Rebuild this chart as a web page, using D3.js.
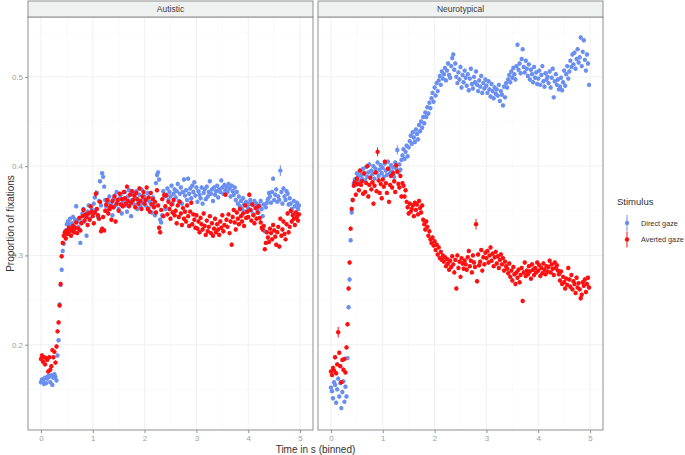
<!DOCTYPE html>
<html lang="en">
<head>
<meta charset="UTF-8">
<script src="https://d3js.org/d3.v7.min.js"></script>
<title>Fixations</title>
<style>
  body { margin: 0; background: #fff; }
  svg { font-family: "Liberation Sans", Arial, sans-serif; }
</style>
</head>
<body>
<script>
const panels = ["Autistic", "Neurotypical"];
const stimuli = ["Direct gaze", "Averted gaze"];
const binWidth = 0.02; // time bins, seconds
const xTicks = [0, 1, 2, 3, 4, 5];
const yTicks = [0.2, 0.3, 0.4, 0.5];

// proportion of fixations per 20 ms bin, starting at t = 0
const autisticDirect = [
  0.158, 0.161, 0.160, 0.156, 0.163, 0.157, 0.162, 0.165, 0.164, 0.158,
  0.166, 0.155, 0.163, 0.167, 0.164, 0.160, 0.188, 0.205, 0.245, 0.267,
  0.284, 0.305, 0.313, 0.322, 0.328, 0.335, 0.338, 0.334, 0.341, 0.330,
  0.336, 0.343, 0.327, 0.340, 0.355, 0.338, 0.332, 0.341, 0.314, 0.337,
  0.347, 0.352, 0.338, 0.344, 0.322, 0.349, 0.356, 0.341, 0.348, 0.352,
  0.346, 0.358, 0.365, 0.351, 0.370, 0.343, 0.361, 0.383, 0.356, 0.392,
  0.388, 0.377, 0.362, 0.355, 0.349, 0.360, 0.366, 0.352, 0.358, 0.345,
  0.363, 0.367, 0.356, 0.371, 0.360, 0.352, 0.364, 0.368, 0.347, 0.359,
  0.362, 0.371, 0.356, 0.349, 0.366, 0.373, 0.358, 0.344, 0.362, 0.369,
  0.357, 0.365, 0.372, 0.352, 0.361, 0.368, 0.355, 0.374, 0.359, 0.364,
  0.366, 0.356, 0.362, 0.370, 0.353, 0.360, 0.358, 0.348, 0.365, 0.356,
  0.345, 0.381, 0.390, 0.393, 0.385, 0.340, 0.337, 0.345, 0.372, 0.366,
  0.352, 0.368, 0.375, 0.362, 0.371, 0.366, 0.378, 0.358, 0.369, 0.374,
  0.365, 0.372, 0.380, 0.361, 0.369, 0.376, 0.358, 0.371, 0.385, 0.367,
  0.373, 0.362, 0.386, 0.369, 0.375, 0.364, 0.378, 0.371, 0.382, 0.367,
  0.376, 0.360, 0.372, 0.368, 0.364, 0.376, 0.358, 0.370, 0.374, 0.363,
  0.377, 0.366, 0.371, 0.383, 0.369, 0.374, 0.361, 0.376, 0.368, 0.372,
  0.378, 0.365, 0.374, 0.371, 0.384, 0.376, 0.369, 0.379, 0.373, 0.377,
  0.371, 0.380, 0.375, 0.366, 0.378, 0.372, 0.368, 0.376, 0.362, 0.371,
  0.358, 0.366, 0.355, 0.361, 0.352, 0.364, 0.357, 0.349, 0.360, 0.356,
  0.353, 0.358, 0.362, 0.350, 0.357, 0.346, 0.361, 0.355, 0.358, 0.352,
  0.348, 0.356, 0.361, 0.352, 0.344, 0.357, 0.327, 0.354, 0.359, 0.363,
  0.370, 0.366, 0.359, 0.371, 0.386, 0.362, 0.368, 0.374, 0.360, 0.366,
  0.362, 0.395, 0.371, 0.358, 0.375, 0.366, 0.362, 0.372, 0.369, 0.357,
  0.364, 0.358, 0.352, 0.348, 0.361, 0.355, 0.347, 0.359, 0.352, 0.356
];
const autisticAverted = [
  0.184, 0.188, 0.181, 0.186, 0.178, 0.185, 0.183, 0.170, 0.186, 0.172,
  0.176, 0.194, 0.186, 0.192, 0.180, 0.198, 0.215, 0.225, 0.244, 0.268,
  0.299, 0.314, 0.322, 0.326, 0.319, 0.328, 0.324, 0.331, 0.327, 0.322,
  0.329, 0.333, 0.326, 0.331, 0.337, 0.325, 0.330, 0.342, 0.328, 0.336,
  0.344, 0.351, 0.339, 0.346, 0.343, 0.334, 0.347, 0.340, 0.355, 0.349,
  0.344, 0.336, 0.348, 0.369, 0.352, 0.345, 0.341, 0.360, 0.327, 0.330,
  0.343, 0.328, 0.350, 0.357, 0.362, 0.347, 0.352, 0.355, 0.340, 0.361,
  0.354, 0.366, 0.338, 0.358, 0.362, 0.350, 0.369, 0.357, 0.363, 0.355,
  0.371, 0.364, 0.358, 0.377, 0.361, 0.355, 0.368, 0.359, 0.372, 0.362,
  0.367, 0.354, 0.370, 0.363, 0.358, 0.375, 0.361, 0.352, 0.366, 0.371,
  0.358, 0.362, 0.376, 0.352, 0.365, 0.349, 0.370, 0.357, 0.363, 0.354,
  0.360, 0.348, 0.373, 0.356, 0.331, 0.326, 0.351, 0.363, 0.344, 0.368,
  0.355, 0.367, 0.346, 0.360, 0.352, 0.341, 0.357, 0.348, 0.362, 0.345,
  0.350, 0.336, 0.356, 0.343, 0.360, 0.347, 0.334, 0.353, 0.341, 0.349,
  0.338, 0.356, 0.344, 0.333, 0.349, 0.359, 0.335, 0.346, 0.340, 0.331,
  0.345, 0.330, 0.338, 0.326, 0.342, 0.335, 0.329, 0.347, 0.333, 0.323,
  0.339, 0.327, 0.332, 0.344, 0.325, 0.336, 0.322, 0.330, 0.341, 0.326,
  0.335, 0.329, 0.323, 0.338, 0.331, 0.345, 0.327, 0.334, 0.368, 0.340,
  0.332, 0.346, 0.325, 0.338, 0.312, 0.343, 0.351, 0.337, 0.329, 0.348,
  0.341, 0.335, 0.352, 0.344, 0.338, 0.347, 0.333, 0.356, 0.342, 0.349,
  0.343, 0.368, 0.351, 0.339, 0.357, 0.345, 0.336, 0.353, 0.341, 0.348,
  0.355, 0.342, 0.337, 0.331, 0.329, 0.333, 0.307, 0.314, 0.326, 0.320,
  0.315, 0.330, 0.325, 0.318, 0.334, 0.328, 0.321, 0.312, 0.326, 0.332,
  0.310, 0.341, 0.322, 0.329, 0.338, 0.324, 0.318, 0.335, 0.347, 0.326,
  0.332, 0.350, 0.338, 0.345, 0.341, 0.334, 0.348, 0.343, 0.339, 0.346
];
const neuroDirect = [
  0.152, 0.148, 0.140, 0.158, 0.155, 0.135, 0.150, 0.162, 0.142, 0.157,
  0.129, 0.147, 0.159, 0.136, 0.153, 0.142, 0.185, 0.242, 0.273, 0.317,
  0.348, 0.362, 0.381, 0.385, 0.379, 0.392, 0.388, 0.383, 0.395, 0.390,
  0.386, 0.397, 0.391, 0.384, 0.399, 0.388, 0.393, 0.402, 0.387, 0.395,
  0.391, 0.400, 0.386, 0.397, 0.393, 0.404, 0.389, 0.396, 0.401, 0.392,
  0.398, 0.388, 0.403, 0.395, 0.390, 0.405, 0.397, 0.392, 0.401, 0.394,
  0.399, 0.388, 0.404, 0.397, 0.418, 0.393, 0.402, 0.396, 0.407, 0.412,
  0.419, 0.408, 0.416, 0.423, 0.411, 0.421, 0.428, 0.434, 0.425, 0.438,
  0.432, 0.427, 0.441, 0.436, 0.430, 0.446, 0.439, 0.450, 0.443, 0.455,
  0.448, 0.460, 0.455, 0.466, 0.459, 0.471, 0.465, 0.476, 0.482, 0.472,
  0.488, 0.479, 0.493, 0.484, 0.496, 0.501, 0.491, 0.506, 0.498, 0.503,
  0.510, 0.496, 0.507, 0.515, 0.502, 0.499, 0.512, 0.521, 0.525, 0.508,
  0.515, 0.500, 0.493, 0.505, 0.497, 0.511, 0.488, 0.502, 0.494, 0.507,
  0.499, 0.490, 0.503, 0.485, 0.498, 0.509, 0.492, 0.487, 0.500, 0.494,
  0.506, 0.491, 0.484, 0.496, 0.489, 0.501, 0.482, 0.493, 0.487, 0.497,
  0.490, 0.482, 0.495, 0.486, 0.478, 0.492, 0.484, 0.476, 0.488, 0.481,
  0.486, 0.479, 0.491, 0.473, 0.484, 0.480, 0.468, 0.489, 0.477, 0.493,
  0.488, 0.497, 0.502, 0.494, 0.506, 0.499, 0.510, 0.503, 0.497, 0.512,
  0.536, 0.508, 0.515, 0.504, 0.520, 0.531, 0.511, 0.505, 0.518, 0.509,
  0.501, 0.514, 0.497, 0.508, 0.503, 0.494, 0.511, 0.499, 0.505, 0.492,
  0.498, 0.507, 0.491, 0.502, 0.512, 0.495, 0.489, 0.504, 0.497, 0.500,
  0.493, 0.506, 0.488, 0.499, 0.509, 0.477, 0.495, 0.503, 0.491, 0.497,
  0.486, 0.489, 0.499, 0.485, 0.494, 0.507, 0.490, 0.503, 0.512, 0.498,
  0.506, 0.518, 0.511, 0.525, 0.514, 0.527, 0.509, 0.520, 0.531, 0.516,
  0.522, 0.544, 0.512, 0.528, 0.541, 0.519, 0.507, 0.525, 0.515, 0.491
];
const neuroAverted = [
  0.170, 0.166, 0.174, 0.171, 0.186, 0.168, 0.178, 0.214, 0.191, 0.176,
  0.158, 0.183, 0.172, 0.184, 0.169, 0.197, 0.223, 0.263, 0.292, 0.330,
  0.352, 0.362, 0.378, 0.382, 0.368, 0.386, 0.380, 0.373, 0.395, 0.379,
  0.383, 0.369, 0.392, 0.371, 0.381, 0.400, 0.366, 0.379, 0.387, 0.374,
  0.382, 0.358, 0.378, 0.393, 0.372, 0.416, 0.384, 0.370, 0.380, 0.364,
  0.385, 0.377, 0.405, 0.381, 0.370, 0.397, 0.360, 0.379, 0.389, 0.376,
  0.392, 0.383, 0.371, 0.401, 0.394, 0.380, 0.376, 0.389, 0.366, 0.381,
  0.378, 0.366, 0.373, 0.360, 0.354, 0.347, 0.358, 0.349, 0.352, 0.356,
  0.344, 0.359, 0.351, 0.357, 0.346, 0.361, 0.353, 0.348, 0.356, 0.340,
  0.335, 0.329, 0.338, 0.332, 0.322, 0.327, 0.318, 0.314, 0.320, 0.311,
  0.316, 0.306, 0.312, 0.301, 0.309, 0.297, 0.304, 0.295, 0.300, 0.293,
  0.298, 0.288, 0.296, 0.291, 0.284, 0.294, 0.287, 0.299, 0.290, 0.281,
  0.295, 0.263, 0.300, 0.286, 0.293, 0.276, 0.297, 0.291, 0.285, 0.294,
  0.290, 0.284, 0.298, 0.305, 0.288, 0.294, 0.281, 0.300, 0.292, 0.287,
  0.335, 0.271, 0.301, 0.289, 0.293, 0.306, 0.283, 0.298, 0.290, 0.303,
  0.297, 0.305, 0.292, 0.300, 0.309, 0.294, 0.302, 0.288, 0.298, 0.304,
  0.291, 0.299, 0.286, 0.295, 0.301, 0.290, 0.297, 0.283, 0.293, 0.288,
  0.285, 0.280, 0.291, 0.276, 0.283, 0.272, 0.287, 0.279, 0.268, 0.281,
  0.275, 0.284, 0.270, 0.278, 0.286, 0.249, 0.281, 0.292, 0.277, 0.283,
  0.279, 0.288, 0.282, 0.274, 0.290, 0.284, 0.278, 0.286, 0.281, 0.292,
  0.283, 0.289, 0.277, 0.286, 0.280, 0.291, 0.284, 0.279, 0.288, 0.282,
  0.287, 0.294, 0.281, 0.290, 0.285, 0.278, 0.292, 0.286, 0.289, 0.283,
  0.279, 0.272, 0.282, 0.268, 0.276, 0.270, 0.263, 0.274, 0.267, 0.286,
  0.273, 0.265, 0.278, 0.262, 0.271, 0.268, 0.258, 0.275, 0.264, 0.269,
  0.262, 0.252, 0.256, 0.270, 0.266, 0.273, 0.259, 0.268, 0.275, 0.264
];

// standard errors: most are tiny, a few bins have visible ranges
const defaultSe = 0.0024;
const wideSe = [
  ["Autistic", "Direct gaze", 231, 0.006],
  ["Autistic", "Averted gaze", 53, 0.004],
  ["Neurotypical", "Direct gaze", 64, 0.005],
  ["Neurotypical", "Averted gaze", 7, 0.006],
  ["Neurotypical", "Averted gaze", 45, 0.005],
  ["Neurotypical", "Averted gaze", 140, 0.006]
];

const seriesValues = {
  "Autistic|Direct gaze": autisticDirect,
  "Autistic|Averted gaze": autisticAverted,
  "Neurotypical|Direct gaze": neuroDirect,
  "Neurotypical|Averted gaze": neuroAverted
};

const colors = d3.scaleOrdinal().domain(stimuli).range(["#6a8ff0", "#ff1010"]);

const width = 685, height = 455;
const panelTop = 17, panelBottom = 430, stripTop = 1;
const panelX = [28, 318], panelW = 285;

const svg = d3.select("body").append("svg")
  .attr("width", width)
  .attr("height", height);

const x = d3.scaleLinear().domain([-0.25, 5.25]).range([0, panelW]);
const y = d3.scaleLinear().domain([0.1045, 0.567]).range([panelBottom, panelTop]);

const minorX = d3.range(-0.5, 5.5, 1).filter(d => d > -0.25);
const minorY = [0.15, 0.25, 0.35, 0.45, 0.55];

panels.forEach((panel, pi) => {
  const g = svg.append("g").attr("transform", `translate(${panelX[pi]},0)`);

  // grid
  g.selectAll(".minx").data(minorX).join("line")
    .attr("x1", d => x(d)).attr("x2", d => x(d))
    .attr("y1", panelTop).attr("y2", panelBottom)
    .attr("stroke", "#f7f7f7").attr("stroke-width", 0.6);
  g.selectAll(".miny").data(minorY).join("line")
    .attr("x1", 0).attr("x2", panelW)
    .attr("y1", d => y(d)).attr("y2", d => y(d))
    .attr("stroke", "#f7f7f7").attr("stroke-width", 0.6);
  g.selectAll(".majx").data(xTicks).join("line")
    .attr("x1", d => x(d)).attr("x2", d => x(d))
    .attr("y1", panelTop).attr("y2", panelBottom)
    .attr("stroke", "#f1f1f1").attr("stroke-width", 1);
  g.selectAll(".majy").data(yTicks).join("line")
    .attr("x1", 0).attr("x2", panelW)
    .attr("y1", d => y(d)).attr("y2", d => y(d))
    .attr("stroke", "#f1f1f1").attr("stroke-width", 1);

  // points with ranges
  stimuli.forEach(stim => {
    const vals = seriesValues[panel + "|" + stim];
    const rows = vals.map((v, i) => {
      const w = wideSe.find(e => e[0] === panel && e[1] === stim && e[2] === i);
      return { t: i * binWidth, p: v, se: w ? w[3] : defaultSe };
    });
    const sg = g.append("g");
    sg.selectAll("line").data(rows).join("line")
      .attr("x1", d => x(d.t)).attr("x2", d => x(d.t))
      .attr("y1", d => y(d.p - d.se)).attr("y2", d => y(d.p + d.se))
      .attr("stroke", colors(stim)).attr("stroke-width", 1);
    sg.selectAll("circle").data(rows).join("circle")
      .attr("cx", d => x(d.t)).attr("cy", d => y(d.p))
      .attr("r", 2.2)
      .attr("fill", colors(stim));
  });

  // border
  g.append("rect")
    .attr("x", 0).attr("y", panelTop)
    .attr("width", panelW).attr("height", panelBottom - panelTop)
    .attr("fill", "none").attr("stroke", "#8f8f8f").attr("stroke-width", 1);

  // strip
  g.append("rect")
    .attr("x", 0).attr("y", stripTop)
    .attr("width", panelW).attr("height", panelTop - stripTop)
    .attr("fill", "#eff0f0").attr("stroke", "#8f8f8f").attr("stroke-width", 1);
  g.append("text")
    .attr("x", panelW / 2).attr("y", (stripTop + panelTop) / 2)
    .attr("dy", "0.35em").attr("text-anchor", "middle")
    .attr("font-size", 8.5).attr("fill", "#404040")
    .text(panel);

  // x axis
  const xAxis = g.append("g")
    .attr("transform", `translate(0,${panelBottom})`)
    .call(d3.axisBottom(x).tickValues(xTicks).tickSize(3).tickPadding(2).tickFormat(d3.format("d")));
  xAxis.select(".domain").remove();
  xAxis.selectAll("line").attr("stroke", "#8f8f8f");
  xAxis.selectAll("text").attr("fill", "#a0a0a0").attr("font-size", 8)
    .style("font-family", "'Liberation Sans', Arial, sans-serif");

  if (pi === 0) {
    const yAxis = g.append("g")
      .call(d3.axisLeft(y).tickValues(yTicks).tickSize(3).tickPadding(2).tickFormat(d3.format(".1f")));
    yAxis.select(".domain").remove();
    yAxis.selectAll("line").attr("stroke", "#8f8f8f");
    yAxis.selectAll("text").attr("fill", "#a0a0a0").attr("font-size", 8)
      .style("font-family", "'Liberation Sans', Arial, sans-serif");
  }
});

// axis titles
svg.append("text")
  .attr("transform", `translate(10,${(panelTop + panelBottom) / 2}) rotate(-90)`)
  .attr("text-anchor", "middle").attr("dy", "0.35em")
  .attr("font-size", 10).attr("fill", "#333")
  .text("Proportion of fixations");

svg.append("text")
  .attr("x", (panelX[0] + panelX[1] + panelW) / 2).attr("y", 449)
  .attr("text-anchor", "middle").attr("dy", "0.35em")
  .attr("font-size", 10).attr("fill", "#333")
  .text("Time in s (binned)");

// legend
const legend = svg.append("g").attr("transform", "translate(617,0)");
legend.append("text")
  .attr("x", 0).attr("y", 202).attr("dy", "0.35em")
  .attr("font-size", 9.5).attr("fill", "#333")
  .text("Stimulus");
stimuli.forEach((stim, i) => {
  const cy = 223 + i * 16.5;
  legend.append("line")
    .attr("x1", 10).attr("x2", 10)
    .attr("y1", cy - 8).attr("y2", cy + 8)
    .attr("stroke", colors(stim)).attr("stroke-width", 1);
  legend.append("circle")
    .attr("cx", 10).attr("cy", cy).attr("r", 2.2)
    .attr("fill", colors(stim));
  legend.append("text")
    .attr("x", 24).attr("y", cy).attr("dy", "0.35em")
    .attr("font-size", 7.3).attr("fill", "#333")
    .text(stim);
});
</script>
</body>
</html>
